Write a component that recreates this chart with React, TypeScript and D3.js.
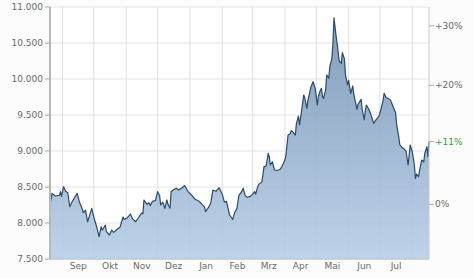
import React from "react";
import * as d3 from "d3";

const W = 474;
const H = 278;

const dates = [
  "2023-08-20","2023-08-22","2023-08-25","2023-08-29","2023-08-30","2023-08-31","2023-09-02","2023-09-04","2023-09-06","2023-09-08",
  "2023-09-10","2023-09-12","2023-09-15","2023-09-17","2023-09-19","2023-09-21","2023-09-23","2023-09-24","2023-09-25","2023-09-27",
  "2023-09-29","2023-10-01","2023-10-04","2023-10-06","2023-10-08","2023-10-09","2023-10-12","2023-10-13","2023-10-16","2023-10-18",
  "2023-10-20","2023-10-23","2023-10-26","2023-10-29","2023-10-30","2023-11-02","2023-11-05","2023-11-07","2023-11-10","2023-11-13",
  "2023-11-16","2023-11-17","2023-11-18","2023-11-21","2023-11-23","2023-11-24","2023-11-26","2023-11-29","2023-12-01","2023-12-03",
  "2023-12-04","2023-12-06","2023-12-08","2023-12-10","2023-12-11","2023-12-13","2023-12-14","2023-12-16","2023-12-19","2023-12-21",
  "2023-12-24","2023-12-27","2023-12-30","2024-01-03","2024-01-06","2024-01-09","2024-01-12","2024-01-15","2024-01-16","2024-01-19",
  "2024-01-21","2024-01-23","2024-01-26","2024-01-29","2024-02-01","2024-02-03","2024-02-05","2024-02-08","2024-02-11","2024-02-13",
  "2024-02-15","2024-02-17","2024-02-19","2024-02-21","2024-02-23","2024-02-25","2024-02-28","2024-03-01","2024-03-03","2024-03-04",
  "2024-03-06","2024-03-07","2024-03-09","2024-03-10","2024-03-12","2024-03-14","2024-03-16","2024-03-17","2024-03-18","2024-03-20",
  "2024-03-22","2024-03-24","2024-03-27","2024-03-29","2024-04-01","2024-04-02","2024-04-04","2024-04-06","2024-04-07","2024-04-09",
  "2024-04-11","2024-04-12","2024-04-14","2024-04-15","2024-04-17","2024-04-19","2024-04-20","2024-04-22","2024-04-23","2024-04-26",
  "2024-04-28","2024-04-30","2024-05-02","2024-05-03","2024-05-05","2024-05-06","2024-05-07","2024-05-08","2024-05-10","2024-05-11",
  "2024-05-13","2024-05-14","2024-05-16","2024-05-17","2024-05-18","2024-05-20","2024-05-21","2024-05-23","2024-05-25","2024-05-26",
  "2024-05-28","2024-05-29","2024-05-31","2024-06-01","2024-06-03","2024-06-05","2024-06-06","2024-06-09","2024-06-10","2024-06-13",
  "2024-06-14","2024-06-16","2024-06-17","2024-06-18","2024-06-20","2024-06-22","2024-06-24","2024-06-25","2024-06-27","2024-06-30",
  "2024-07-02","2024-07-04","2024-07-05","2024-07-07","2024-07-09","2024-07-11","2024-07-13","2024-07-16","2024-07-17","2024-07-19",
  "2024-07-20","2024-07-22","2024-07-24","2024-07-26","2024-07-28","2024-07-30","2024-08-01","2024-08-02","2024-08-03","2024-08-04",
  "2024-08-05","2024-08-07","2024-08-08","2024-08-10","2024-08-12","2024-08-13","2024-08-15","2024-08-16","2024-08-17",
];

const closes = [
  8260, 8412, 8375, 8385, 8435, 8370, 8504, 8440, 8420, 8226,
  8290, 8340, 8412, 8300, 8230, 8143, 8180, 8100, 8018, 8110,
  8204, 8080, 7930, 7810, 7949, 7900, 7972, 7880, 7833, 7900,
  7870, 7910, 7940, 8083, 8050, 8070, 8125, 8060, 8018, 8080,
  8140, 8130, 8319, 8260, 8280, 8240, 8300, 8310, 8435, 8380,
  8250, 8290, 8204, 8320, 8260, 8204, 8435, 8460, 8483, 8460,
  8483, 8520, 8440, 8380, 8330, 8310, 8270, 8220, 8157, 8220,
  8280, 8458, 8440, 8490, 8400, 8290, 8300, 8111, 8051, 8150,
  8200, 8389, 8420, 8483, 8380, 8357, 8370, 8400, 8435, 8400,
  8504, 8540, 8560, 8574, 8782, 8790, 8968, 8920, 8806, 8851,
  8736, 8730, 8740, 8780, 8875, 8944, 9222, 9240, 9282, 9260,
  9222, 9380, 9486, 9361, 9560, 9778, 9740, 9593, 9700, 9893,
  9963, 9870, 9639, 9760, 9847, 9870, 9760, 9731, 9850, 10056,
  10010, 10171, 10287, 10500, 10850, 10600, 10496, 10250, 10218, 10365,
  10280, 10056, 9917, 9980, 9801, 9903, 9790, 9579, 9650, 9718,
  9580, 9431, 9560, 9639, 9590, 9520, 9430, 9384, 9430, 9480,
  9580, 9700, 9801, 9740, 9730, 9710, 9639, 9530, 9370, 9199,
  9090, 9051, 9030, 9000, 8806, 9083, 8990, 8900, 8800, 8620,
  8680, 8643, 8730, 8875, 8850, 8968, 9060, 8921, 9130,
];

const yTicks = [7500, 8000, 8500, 9000, 9500, 10000, 10500, 11000];
const pctTicks = [0, 20, 30];
const monthLabels = ["Sep", "Okt", "Nov", "Dez", "Jan", "Feb", "Mrz", "Apr", "Mai", "Jun", "Jul"];

const FONT = "'DejaVu Sans', Verdana, sans-serif";

export default function App() {
  const parse = d3.timeParse("%Y-%m-%d");
  const data = dates.map((d, i) => ({ date: parse(d) as Date, v: closes[i] }));
  const first = data[0];
  const last = data[data.length - 1];

  const left = 50, right = 429, top = 7, bottom = 259;
  const x = d3.scaleTime().domain([first.date, last.date]).range([left, right]);
  const y = d3.scaleLinear().domain([yTicks[0], yTicks[yTicks.length - 1]]).range([bottom, top]);

  const de = d3.formatLocale({ decimal: ",", thousands: ".", grouping: [3], currency: ["", "€"] });
  const fmt = de.format(",d");

  const areaGen = d3.area<{ date: Date; v: number }>()
    .x((d) => x(d.date))
    .y0(bottom)
    .y1((d) => y(d.v));
  const lineGen = d3.line<{ date: Date; v: number }>()
    .x((d) => x(d.date))
    .y((d) => y(d.v));

  const monthStarts = d3.timeMonth.range(d3.timeMonth.ceil(first.date), last.date);
  const months = monthStarts.slice(0, monthLabels.length).map((m, i) => {
    const next = d3.timeMonth.offset(m, 1);
    return { label: monthLabels[i], x: (x(m) + x(next)) / 2 };
  });

  const curPct = Math.round((last.v / first.v - 1) * 100);

  return (
    <svg width={W} height={H} style={{ position: "absolute", left: 0, top: 0, background: "#fcfcfc" }}>
      <defs>
        <linearGradient id="fillGrad" gradientUnits="userSpaceOnUse" x1="0" y1={top} x2="0" y2={bottom}>
          <stop offset="0%" stopColor="#6f8cad" />
          <stop offset="100%" stopColor="#b4cde6" />
        </linearGradient>
      </defs>
      <rect x={left} y={top} width={right - left} height={bottom - top} fill="#ffffff" />
      {yTicks.map((t) => (
        <line key={"hg" + t} x1={left} x2={right} y1={y(t)} y2={y(t)} stroke="#e4e4e4" strokeWidth={1} />
      ))}
      {monthStarts.map((m, i) => (
        <line key={"vg" + i} x1={x(m)} x2={x(m)} y1={top} y2={bottom} stroke="#e0e0e0" strokeWidth={1} />
      ))}
      <path d={areaGen(data) || ""} fill="url(#fillGrad)" fillOpacity={0.88} />
      <path d={lineGen(data) || ""} fill="none" stroke="#2c4a6a" strokeWidth={1.2} strokeLinejoin="round" />

      <line x1={left} x2={right} y1={bottom} y2={bottom} stroke="#c8c8c8" strokeWidth={1.5} />
      <line x1={left} x2={left} y1={top} y2={bottom} stroke="#b8b8b8" strokeWidth={2} />
      <line x1={right} x2={right} y1={top} y2={bottom} stroke="#c8c8c8" strokeWidth={1} />

      {yTicks.map((t) => (
        <g key={"yt" + t}>
          <line x1={left - 5} x2={left} y1={y(t)} y2={y(t)} stroke="#aaa" strokeWidth={1} />
          <text x={left - 7} y={y(t)} dy="0.35em" textAnchor="end" fontFamily={FONT} fontSize={9} fill="#6a6a6a">
            {fmt(t)}
          </text>
        </g>
      ))}

      {pctTicks.map((p) => {
        const yy = y(first.v * (1 + p / 100));
        return (
          <g key={"pt" + p}>
            <line x1={right} x2={right + 5} y1={yy} y2={yy} stroke="#aaa" strokeWidth={1} />
            <text x={right + 6} y={yy} dy="0.35em" fontFamily={FONT} fontSize={9} fill="#6a6a6a">
              {(p > 0 ? "+" : "") + p + "%"}
            </text>
          </g>
        );
      })}
      <g>
        <line x1={right} x2={right + 5} y1={y(last.v)} y2={y(last.v)} stroke="#aaa" strokeWidth={1} />
        <text x={right + 6} y={y(last.v)} dy="0.35em" fontFamily={FONT} fontSize={9} fill="#3c9a3c">
          {(curPct >= 0 ? "+" : "") + curPct + "%"}
        </text>
      </g>

      {months.map((m) => (
        <text key={m.label} x={m.x} y={269} textAnchor="middle" fontFamily={FONT} fontSize={9} fill="#6a6a6a">
          {m.label}
        </text>
      ))}
    </svg>
  );
}
